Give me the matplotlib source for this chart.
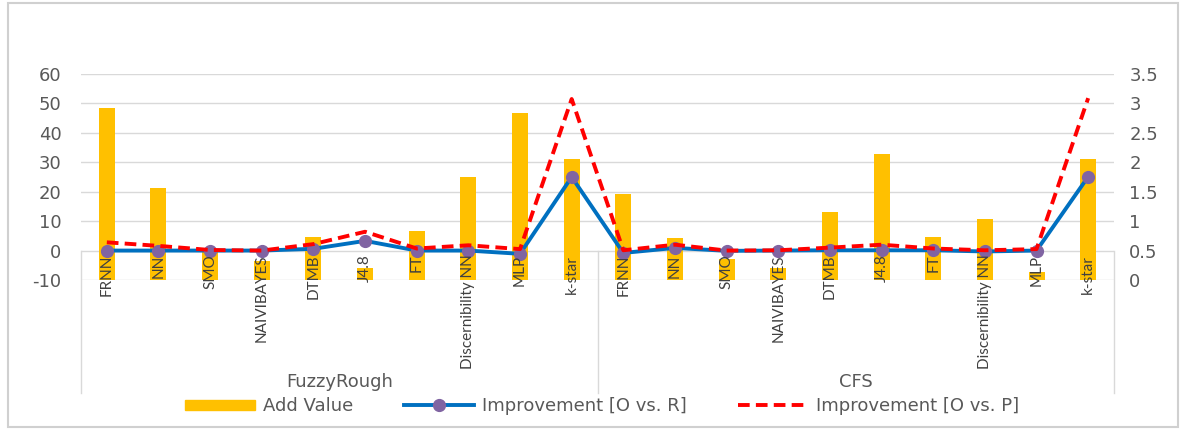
import numpy as np
import matplotlib
matplotlib.use("Agg")
import matplotlib.pyplot as plt
from matplotlib.patches import Rectangle
from matplotlib.lines import Line2D
from matplotlib.patches import Patch

# data
classifiers = ["FRNN", "NN", "SMO", "NAIVIBAYES", "DTMB", "J4.8", "FT",
               "Discernibility NN", "MLP", "k-star"]
groups = ["FuzzyRough", "CFS"]

add_value = [48.4, 21.1, -0.5, -3.5, 4.5, -5.8, 6.6, 25.0, 46.6, 31.1,
             19.3, 4.3, -3.0, -5.8, 13.1, 32.8, 4.5, 10.6, -7.2, 31.1]
impr_o_r = [0.0, 0.0, 0.0, 0.0, 0.6, 3.3, 0.0, 0.0, -1.1, 25.0,
            -0.8, 0.9, -0.1, 0.0, 0.1, 0.1, 0.1, -0.3, 0.0, 25.1]
impr_o_p = [2.8, 1.6, 0.2, 0.0, 2.2, 6.4, 0.7, 1.8, 0.5, 51.5,
            0.1, 2.0, 0.0, 0.1, 1.0, 2.0, 0.7, 0.1, 0.5, 51.8]

left_ticks = np.arange(-10, 61, 10)
right_ticks = np.arange(0, 3.51, 0.5)

YELLOW = "#FFC000"
BLUE = "#0070C0"
PURPLE = "#8064A2"
RED = "#FF0000"
GRID = "#D9D9D9"
TXT = "#595959"
NARROW = ["Lato", "DejaVu Sans"]

fig = plt.figure(figsize=(11.84, 4.30), dpi=100)
ax = fig.add_axes([81 / 1184, 1 - 280 / 430, (1114 - 81) / 1184, 206 / 430])
ax2 = ax.twinx()

labels = classifiers * len(groups)
x = np.arange(len(labels))
floor = left_ticks[0]

ax.bar(x, np.array(add_value) - floor, bottom=floor, width=0.31,
       color=YELLOW, zorder=2)
ax.plot(x, impr_o_r, color=BLUE, lw=2.8, marker="o", markersize=8.5,
        markerfacecolor=PURPLE, markeredgecolor=PURPLE, zorder=3)
ax.plot(x, impr_o_p, color=RED, lw=2.8, ls=(0, (3, 1.6)), zorder=4)

ax.set_xlim(-0.5, len(labels) - 0.5)
ax.set_ylim(left_ticks[0], left_ticks[-1])
ax.set_yticks(left_ticks)
ax.set_yticklabels([str(t) for t in left_ticks])
ax2.set_ylim(right_ticks[0], right_ticks[-1])
ax2.set_yticks(right_ticks)
ax2.set_yticklabels(["%g" % t for t in right_ticks])

for a in (ax, ax2):
    for s in a.spines.values():
        s.set_visible(False)
    a.tick_params(axis="y", length=0, labelsize=13, colors=TXT)
ax.tick_params(axis="y", pad=14)
ax2.tick_params(axis="y", pad=11)
ax.set_xticks([])
ax.yaxis.grid(True, color=GRID, lw=1, zorder=0)
ax.set_axisbelow(True)

# category labels hang below the zero line
for xi, lab in zip(x, labels):
    ax.annotate(lab, (xi, 0), xytext=(0, -3), textcoords="offset points",
                rotation=90, ha="center", va="top", fontsize=11,
                family=NARROW, color="#404040", annotation_clip=False)

# group separators and group names
n = len(classifiers)
for b in range(len(groups) + 1):
    ax.plot([b * n - 0.5] * 2, [0, -48.5], color=GRID, lw=1, clip_on=False)
for gi, g in enumerate(groups):
    ax.text(gi * n + (n - 1) / 2, -44.8, g, ha="center", va="center",
            fontsize=13, color=TXT, clip_on=False)

handles = [Patch(color=YELLOW),
           Line2D([], [], color=BLUE, lw=2.8, marker="o", markersize=8.5,
                  markerfacecolor=PURPLE, markeredgecolor=PURPLE),
           Line2D([], [], color=RED, lw=2.8, ls=(0, (3, 1.6)))]
fig.legend(handles, ["Add Value", "Improvement [O vs. R]", "Improvement [O vs. P]"],
           loc="center", bbox_to_anchor=(602 / 1184, 1 - 406 / 430), ncol=3,
           frameon=False, fontsize=13, handlelength=3.9, handleheight=0.47,
           handletextpad=0.45, columnspacing=2.8, labelcolor=TXT)

fig.patches.append(Rectangle((8 / 1184, 3 / 430), 1170 / 1184, 1 - 6 / 430,
                             transform=fig.transFigure, fill=False,
                             edgecolor="#D0D0D0", lw=1.5))

fig.savefig("out.png", dpi=100)
